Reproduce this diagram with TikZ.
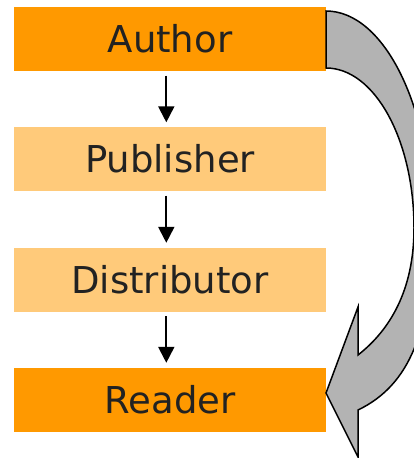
\documentclass[tikz,border=0pt]{standalone}
\usepackage{fontspec}
\setmainfont{DejaVu Sans}
\usetikzlibrary{arrows.meta}
\definecolor{strongorange}{HTML}{FF9900}
\definecolor{softorange}{HTML}{FFCA7A}
\definecolor{textgray}{HTML}{222222}
\definecolor{arrowgray}{HTML}{B3B3B3}
\tikzset{
  stagebox/.style={rectangle, minimum width=312pt, minimum height=64pt, inner sep=0pt,
    font=\fontsize{37}{44}\selectfont, text=textgray},
  keybox/.style={stagebox, fill=strongorange},
  midbox/.style={stagebox, fill=softorange},
  flow/.style={-{Triangle[length=16pt,width=16pt]}, line width=2pt, black,
    shorten <=4.5pt, shorten >=4.5pt},
  bigarrow/.style={fill=arrowgray, draw=black, line width=1.5pt, line join=miter}
}
\begin{document}
\begin{tikzpicture}[x=1pt,y=-1pt]
\useasboundingbox (0,0) rectangle (414,458);
\clip (0,0) rectangle (414,458);
\node[keybox] (author) at (170,39) {Author};
\node[midbox] (publisher) at (170,159) {Publisher};
\node[midbox] (distributor) at (170,279.5) {Distributor};
\node[keybox] (reader) at (170,399.5) {Reader};
\draw[flow] ([xshift=-3.7pt]author.south) -- ([xshift=-3.7pt]publisher.north);
\draw[flow] ([xshift=-3.7pt]publisher.south) -- ([xshift=-3.7pt]distributor.north);
\draw[flow] ([xshift=-3.7pt]distributor.south) -- ([xshift=-3.7pt]reader.north);
% curved return arrow
\coordinate (os) at (326,11);
\coordinate (is) at (326,68);
\coordinate (tip) at (326,393);
\draw[bigarrow] (os)
  .. controls (384.5,11) and (432,108) .. (432,228)
  .. controls (432,330) and (410,385) .. (358,410)
  -- (358,457) -- (tip) -- (358,307) -- (358,355)
  .. controls (390,330) and (414,290) .. (414,228)
  .. controls (414,140) and (374.6,68) .. (is)
  -- cycle;
\end{tikzpicture}
\end{document}
